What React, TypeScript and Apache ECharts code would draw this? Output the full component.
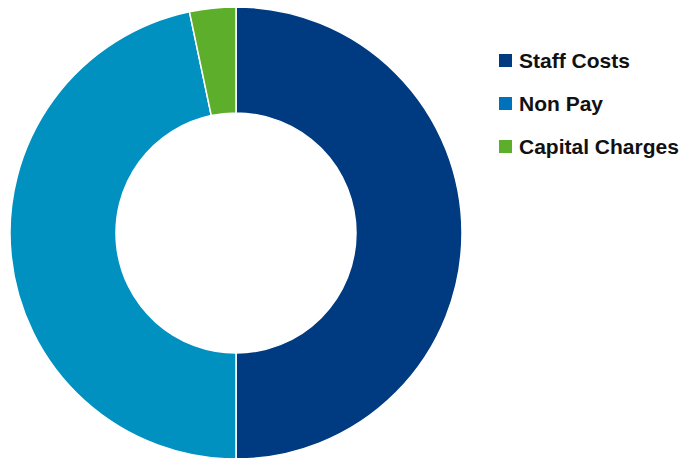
import React, { useEffect, useRef } from "react";
import * as echarts from "echarts";

const categories = ["Staff Costs", "Non Pay", "Capital Charges"];
const values = [50.0, 46.7, 3.3];
const sliceColors = ["#003a80", "#0091c1", "#5cae2b"];
const legendColors = ["#003a80", "#0072bc", "#5cae2b"];

export default function App() {
  const ref = useRef<HTMLDivElement>(null);
  useEffect(() => {
    document.body.style.margin = "0";
    const chart = echarts.init(ref.current!, null, { renderer: "svg" });
    chart.setOption({
      animation: false,
      legend: {
        orient: "vertical",
        left: 497,
        top: 50,
        padding: 0,
        icon: "rect",
        itemWidth: 15,
        itemHeight: 15,
        itemGap: 22,
        textStyle: {
          fontSize: 21,
          fontWeight: "bold",
          fontFamily: "Liberation Sans, Arial, sans-serif",
          color: "#111",
          padding: [0, 0, 0, 1],
        },
        data: categories.map((c, i) => ({ name: c, itemStyle: { color: legendColors[i] } })),
      },
      series: [
        {
          type: "pie",
          center: [236, 233],
          radius: [120, 226],
          startAngle: 90,
          clockwise: true,
          label: { show: false },
          labelLine: { show: false },
          emphasis: { disabled: true },
          itemStyle: { borderColor: "#fff", borderWidth: 1.5 },
          data: categories.map((c, i) => ({
            name: c,
            value: values[i],
            itemStyle: { color: sliceColors[i] },
          })),
        },
      ],
    });
    return () => chart.dispose();
  }, []);
  return <div ref={ref} style={{ width: 682, height: 458 }} />;
}
